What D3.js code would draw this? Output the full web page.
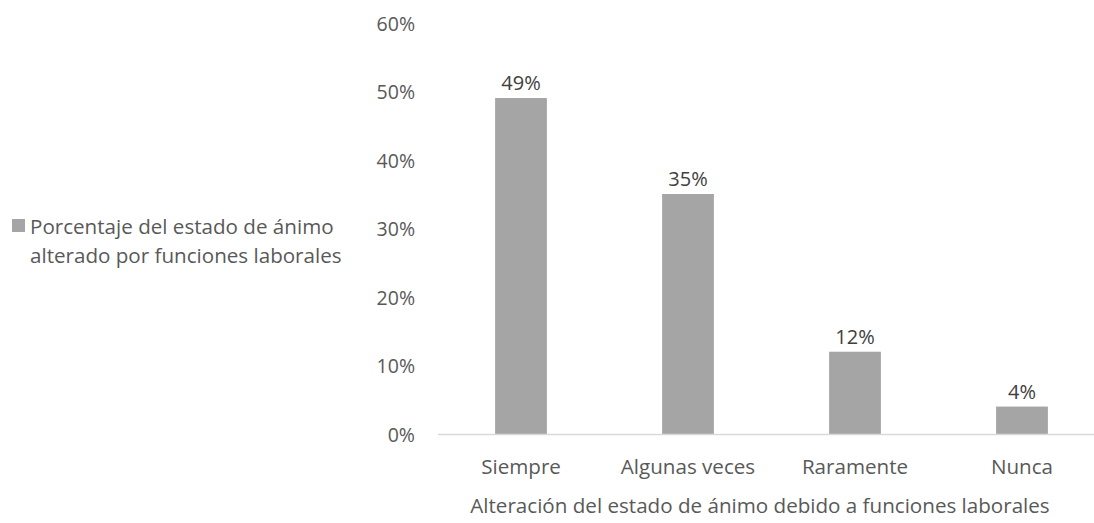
<!DOCTYPE html>
<html><head><meta charset="utf-8">
<script src="https://cdn.jsdelivr.net/npm/d3@7"></script>
<style>body{margin:0;background:#fff;} svg{display:block;font-family:"Open Sans",sans-serif;}</style>
</head><body>
<svg id="c" width="1094" height="523"></svg>
<script>
const categories = ["Siempre", "Algunas veces", "Raramente", "Nunca"];
const values = [0.49, 0.35, 0.12, 0.04];
const yTicks = [0, 0.1, 0.2, 0.3, 0.4, 0.5, 0.6];
const seriesName = ["Porcentaje del estado de ánimo", "alterado por funciones laborales"];
const xTitle = "Alteración del estado de ánimo debido a funciones laborales";

const svg = d3.select("#c");
const fs = 20.6;
const fsLbl = 20;
const x = d3.scaleBand().domain(categories).range([437.5, 1105.5]).paddingInner(0).paddingOuter(0);
const y = d3.scaleLinear().domain([0, 0.6]).range([434, 22.6]);
const fmt = d3.format(".0%");
const barW = x.bandwidth() * 0.31;

// y axis labels
const ya = svg.append("g").attr("transform", "translate(415,0)")
  .call(d3.axisLeft(y).tickValues(yTicks).tickFormat(fmt).tickSize(0).tickPadding(0));
ya.select(".domain").remove();
ya.selectAll("text").attr("font-family", "Open Sans").attr("font-size", 19.5).attr("fill", "#595959").attr("dy", 7.5);

// bars
svg.selectAll("rect.bar").data(values).join("rect").attr("class", "bar")
  .attr("x", (d, i) => x(categories[i]) + x.bandwidth() / 2 - barW / 2)
  .attr("width", barW)
  .attr("y", d => y(d)).attr("height", d => y(0) - y(d))
  .attr("fill", "#A5A5A5");

// x axis
const xa = svg.append("g").attr("transform", `translate(0,${y(0)})`)
  .call(d3.axisBottom(x).tickSize(0).tickPadding(0));
xa.select(".domain").attr("stroke", "#D9D9D9").attr("stroke-width", 1.5);
xa.selectAll("text").attr("font-family", "Open Sans").attr("font-size", fs).attr("fill", "#595959").attr("dy", 0).attr("y", 40);

// data labels
svg.selectAll("text.lbl").data(values).join("text").attr("class", "lbl")
  .attr("x", (d, i) => x(categories[i]) + x.bandwidth() / 2)
  .attr("y", d => y(d) - 8)
  .attr("text-anchor", "middle").attr("font-size", fsLbl).attr("fill", "#404040")
  .text(d => fmt(d));

// x title
svg.append("text").attr("x", 760).attr("y", 513).attr("text-anchor", "middle")
  .attr("font-size", fs).attr("fill", "#595959").text(xTitle);

// legend
svg.append("rect").attr("x", 12).attr("y", 219).attr("width", 13).attr("height", 13).attr("fill", "#A5A5A5");
svg.append("text").attr("x", 30).attr("y", 0).attr("font-size", fs).attr("fill", "#595959")
  .selectAll("tspan").data(seriesName).join("tspan")
  .attr("x", 30).attr("y", (d, i) => 234 + i * 29).text(d => d);
</script>
</body></html>
